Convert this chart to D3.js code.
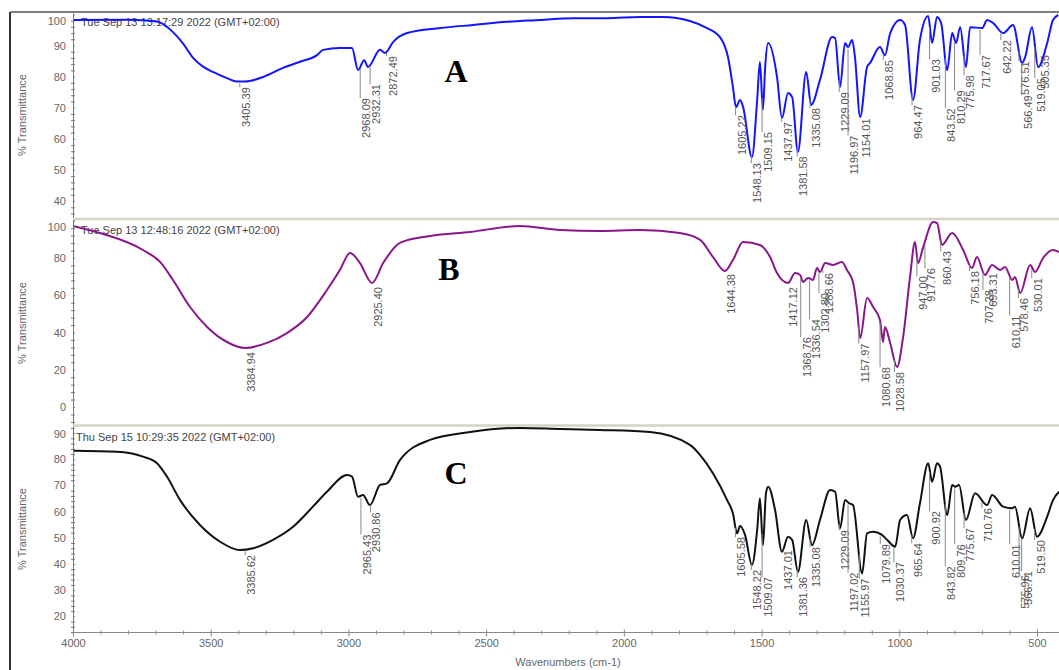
<!DOCTYPE html>
<html><head><meta charset="utf-8">
<script src="https://cdn.jsdelivr.net/npm/d3@7"></script>
<style>
html,body{margin:0;padding:0;background:#fff;}
svg{display:block;font-family:Arial,"Liberation Sans",sans-serif;}
</style></head>
<body>
<svg id="chart" width="1059" height="670"></svg>
<script>
// ---------------- DATA ----------------
const wavenumberTicks = [4000, 3500, 3000, 2500, 2000, 1500, 1000, 500];

const ticksA = [100, 90, 80, 70, 60, 50, 40];
const ticksB = [100, 80, 60, 40, 20, 0];
const ticksC = [90, 80, 70, 60, 50, 40, 30, 20];

const panelLetters = ["A", "B", "C"];
const panelDates = [
  "Tue Sep 13 13:17:29 2022 (GMT+02:00)",
  "Tue Sep 13 12:48:16 2022 (GMT+02:00)",
  "Thu Sep 15 10:29:35 2022 (GMT+02:00)"
];

// spectrum A: [wavenumber, %T]
const spectrumA = [[4000,98.2],[3800,98.3],[3695,97.7],[3637,94.3],[3601,90.7],[3564,86.0],[3528,83.2],[3492,81.5],[3441,79.5],[3405,78.4],[3375,78.4],[3310,79.9],[3237,82.8],[3176,84.8],[3114,86.9],[3092,88.6],[3031,89.2],[2987,89.2],[2965,82.1],[2943,85.3],[2929,83.1],[2885,88.6],[2867,87.6],[2838,91.1],[2787,94.0],[2667,95.6],[2548,96.6],[2424,97.6],[2304,98.2],[2184,98.8],[2061,98.8],[1941,99.2],[1858,99.2],[1760,97.9],[1698,95.6],[1651,92.7],[1622,86.3],[1604,76.7],[1593,70.2],[1578,72.5],[1567,70.2],[1535,54.1],[1516,72.5],[1506,84.7],[1495,69.3],[1487,83.1],[1476,90.8],[1444,79.9],[1426,66.7],[1404,74.7],[1389,73.4],[1368,55.8],[1338,81.5],[1320,70.9],[1288,78.9],[1244,92.7],[1233,92.4],[1215,76.7],[1197,90.8],[1186,89.5],[1171,91.8],[1161,86.3],[1142,67.0],[1117,83.1],[1106,84.4],[1070,89.5],[1052,86.9],[1033,94.0],[997,98.2],[979,96.6],[950,72.5],[925,91.8],[895,99.5],[881,90.8],[863,99.2],[848,97.2],[826,82.1],[808,94.0],[794,90.8],[779,95.9],[758,83.1],[743,95.9],[699,95.6],[681,98.2],[659,97.2],[623,94.0],[587,96.6],[554,84.4],[543,86.3],[518,95.9],[496,83.1],[463,90.8],[442,98.2],[423,99.8]];

const spectrumB = [[4000,97.2],[3902,93.4],[3746,84.3],[3684,77.9],[3637,68.2],[3575,53.7],[3513,43.0],[3441,34.9],[3375,31.7],[3296,34.4],[3223,39.7],[3150,48.3],[3078,62.8],[3031,73.6],[2994,82.7],[2958,77.3],[2914,66.6],[2874,77.3],[2813,88.1],[2704,91.8],[2558,94.0],[2377,97.2],[2232,95.0],[2087,94.5],[1941,95.0],[1796,93.4],[1723,89.7],[1676,80.5],[1633,73.0],[1604,78.9],[1567,88.6],[1506,87.0],[1469,80.5],[1444,71.9],[1404,66.6],[1378,71.9],[1360,70.9],[1349,67.1],[1331,69.3],[1313,68.2],[1299,74.6],[1288,72.5],[1269,77.3],[1240,76.2],[1208,77.9],[1190,73.6],[1168,67.1],[1153,52.1],[1142,37.0],[1117,58.5],[1095,53.7],[1070,46.7],[1059,34.9],[1052,43.0],[1033,34.4],[1008,21.5],[986,37.6],[961,69.8],[943,88.6],[932,77.3],[914,85.4],[877,99.3],[863,98.8],[845,87.0],[808,93.4],[768,84.3],[736,74.6],[718,80.5],[689,70.9],[663,76.2],[634,73.6],[616,75.2],[590,68.2],[580,69.8],[561,61.2],[525,76.2],[507,72.5],[478,80.0],[442,84.3],[420,83.2]];

const spectrumC = [[4000,83.3],[3840,82.9],[3746,81.0],[3695,78.5],[3659,73.4],[3611,64.4],[3539,54.9],[3466,48.5],[3394,45.3],[3346,46.0],[3274,49.2],[3201,54.2],[3129,61.9],[3078,67.6],[3005,74.0],[2987,73.4],[2965,65.7],[2947,66.4],[2922,62.5],[2885,70.2],[2860,70.8],[2813,79.7],[2704,87.4],[2558,90.4],[2377,92.0],[2232,91.6],[2087,91.2],[1905,90.4],[1760,85.5],[1723,81.6],[1676,74.6],[1625,64.4],[1604,59.3],[1589,51.7],[1578,54.5],[1560,51.1],[1535,39.6],[1516,53.0],[1506,65.1],[1495,47.2],[1484,67.0],[1476,69.5],[1451,60.6],[1426,44.7],[1404,50.4],[1389,49.2],[1368,37.0],[1338,56.8],[1317,47.2],[1288,56.8],[1251,68.3],[1233,67.6],[1215,53.6],[1197,64.4],[1182,63.2],[1168,62.5],[1135,36.4],[1117,51.7],[1095,52.3],[1063,51.1],[1044,49.2],[1015,46.6],[997,56.8],[972,58.7],[950,49.8],[925,63.2],[895,78.5],[881,71.4],[863,78.5],[852,77.2],[826,58.7],[808,70.2],[797,69.5],[783,70.2],[758,56.8],[725,67.0],[681,62.5],[663,66.4],[623,61.9],[590,61.3],[580,61.9],[554,49.8],[525,61.3],[500,50.4],[463,58.1],[442,64.4],[420,67.6]];

// peak labels: [label, %T level of label centre]
const peaksA = [["3405.39",70.2],["2968.09",66.7],["2932.31",71.2],["2872.49",80.2],["1605.22",61.2],["1548.13",45.8],["1509.15",55.8],["1437.97",59.0],["1381.58",48.0],["1335.08",63.5],["1229.09",68.6],["1196.97",54.8],["1154.01",60.3],["1068.85",78.9],["964.47",65.4],["901.03",80.2],["843.52",64.4],["810.29",70.2],["775.98",75.0],["717.67",81.5],["642.22",86.3],["576.51",79.5],["566.49",68.6],["519.05",74.1],["505.35",81.5]];
const peaksB = [["3384.94",18.8],["2925.40",53.7],["1644.38",60.7],["1417.12",53.7],["1368.76",26.8],["1336.54",36.5],["1302.80",50.5],["1288.66",61.2],["1157.97",23.6],["1080.68",10.7],["1028.58",8.1],["947.00",61.2],["917.76",65.5],["860.43",74.6],["756.18",63.9],["707.28",53.7],["693.31",62.8],["610.11",40.3],["578.46",49.4],["530.01",60.1]];
const peaksC = [["3385.62",35.8],["2965.43",43.6],["2930.86",52.1],["1605.58",42.7],["1548.22",30.1],["1509.07",27.4],["1437.01",37.7],["1381.36",27.4],["1335.08",38.8],["1229.09",45.3],["1197.02",29.3],["1155.97",27.0],["1079.89",40.0],["1030.37",33.1],["965.64",41.5],["900.92",53.8],["843.82",32.7],["809.76",41.1],["775.67",47.3],["710.76",54.9],["610.01",41.1],["575.96",29.3],["566.71",30.8],["519.50",42.7]];

// ---------------- LAYOUT ----------------
const W = 1059, H = 670;
const plotLeft = 73, plotRight = W;
const axisY = 632.5;
const grey = "#666";

const panels = [
  {top: 13,    bot: 218.5, domain: [34.4, 100.45], ticks: ticksA, minor: 2, data: spectrumA, peaks: peaksA, color: "#1414ff",
   letterPos: [456, 82], datePos: [81, 22], titleY: 115},
  {top: 219.5, bot: 425.5, domain: [-9.93, 100.67], ticks: ticksB, minor: 4, data: spectrumB, peaks: peaksB, color: "#8a168a",
   letterPos: [449, 280], datePos: [81, 230], titleY: 323},
  {top: 426,   bot: 632.5, domain: [13.82, 92.72], ticks: ticksC, minor: 2, data: spectrumC, peaks: peaksC, color: "#111111",
   letterPos: [456, 484], datePos: [76, 437], titleY: 529}
];

const svg = d3.select("#chart");
const x = d3.scaleLinear().domain([4000, 500]).range([73, 1037]);

// outer frame
svg.append("line").attr("x1",10).attr("x2",10).attr("y1",12).attr("y2",H).attr("stroke","#333").attr("stroke-width",2);
svg.append("line").attr("x1",10).attr("x2",W).attr("y1",12).attr("y2",12).attr("stroke","#555").attr("stroke-width",1.5);

panels.forEach((p, i) => {
  const y = d3.scaleLinear().domain(p.domain).range([p.bot, p.top]);
  const g = svg.append("g");

  if (i > 0) {
    g.append("line").attr("x1", plotLeft).attr("x2", W).attr("y1", p.top - 0.5).attr("y2", p.top - 0.5)
      .attr("stroke", "#d6d2c6").attr("stroke-width", 2.5);
  }

  g.append("text").attr("x", p.datePos[0]).attr("y", p.datePos[1]).attr("dominant-baseline","central")
    .attr("font-size", 11).attr("fill", "#444").text(panelDates[i]);

  const minorVals = d3.range(Math.ceil(p.domain[0]/p.minor)*p.minor, p.domain[1], p.minor)
      .filter(v => p.ticks.indexOf(v) < 0);
  const minorAx = g.append("g").attr("transform", `translate(${plotLeft},0)`)
    .call(d3.axisLeft(y).tickValues(minorVals).tickSize(2).tickSizeOuter(0).tickFormat(""));
  minorAx.select(".domain").remove();
  minorAx.selectAll(".tick line").attr("stroke", "#777").attr("x2", 2).attr("x1",-2);

  const ax = g.append("g").attr("transform", `translate(${plotLeft},0)`)
    .call(d3.axisLeft(y).tickValues(p.ticks).tickSize(4).tickSizeOuter(0).tickPadding(3));
  ax.select(".domain").attr("stroke", "#777");
  ax.selectAll(".tick line").attr("stroke", "#777").attr("x2", 2);
  ax.selectAll(".tick text").attr("font-size", 11).attr("fill", grey).attr("font-family","Arial, 'Liberation Sans', sans-serif")
    .attr("y", d => Math.max(0, p.top + 7.5 - y(d)));

  g.append("text").attr("transform", `translate(22,${p.titleY}) rotate(-90)`)
    .attr("text-anchor","middle").attr("dominant-baseline","central")
    .attr("font-size", 11).attr("fill", grey).text("% Transmittance");

  const cid = "clip" + i;
  svg.append("clipPath").attr("id", cid).append("rect")
    .attr("x", plotLeft + 1).attr("y", p.top).attr("width", plotRight - plotLeft).attr("height", p.bot - p.top);

  const line = d3.line().x(d => x(d[0])).y(d => y(d[1])).curve(d3.curveMonotoneX);
  g.append("path").datum(p.data).attr("clip-path", `url(#${cid})`)
    .attr("d", line).attr("fill", "none").attr("stroke", p.color).attr("stroke-width", 2)
    .attr("stroke-linejoin","round");

  const pts = p.data.map(d => [x(d[0]), y(d[1])]);
  function curveYAt(px) {
    for (let k = 0; k < pts.length - 1; k++) {
      if (px >= pts[k][0] && px <= pts[k+1][0]) {
        const t = (px - pts[k][0]) / (pts[k+1][0] - pts[k][0]);
        return pts[k][1] + t * (pts[k+1][1] - pts[k][1]);
      }
    }
    return null;
  }

  const lg = g.append("g").attr("clip-path", `url(#${cid})`);
  p.peaks.forEach(pk => {
    const lx = x(+pk[0]) + 9;
    const ly = y(pk[1]);
    const t = lg.append("text").attr("transform", `translate(${lx},${ly}) rotate(-90)`)
      .attr("text-anchor","middle").attr("dominant-baseline","central")
      .attr("font-size", 11).attr("fill", "#555").text(pk[0]);
    const len = t.node().getComputedTextLength();
    const topY = ly - len / 2;
    const lineX = lx - 6;
    const cy = curveYAt(lineX);
    if (cy !== null && topY - cy > 5) {
      lg.append("line").attr("x1", lineX).attr("x2", lineX).attr("y1", cy + 2).attr("y2", topY)
        .attr("stroke", "#888").attr("stroke-width", 1);
    }
  });

  g.append("text").attr("x", p.letterPos[0]).attr("y", p.letterPos[1]).attr("text-anchor","middle")
    .attr("font-family", "'Liberation Serif','Times New Roman',serif").attr("font-weight","bold")
    .attr("font-size", 32).attr("fill", "#000").text(panelLetters[i]);
});

// x axis
svg.append("line").attr("x1", plotLeft).attr("x2", W).attr("y1", axisY).attr("y2", axisY).attr("stroke", "#888");
const xMinor = d3.range(4000, 400, -100).filter(v => wavenumberTicks.indexOf(v) < 0);
const xm = svg.append("g").attr("transform", `translate(0,${axisY})`)
  .call(d3.axisBottom(x).tickValues(xMinor).tickSize(2).tickSizeOuter(0).tickFormat(""));
xm.select(".domain").remove();
xm.selectAll(".tick line").attr("stroke","#888").attr("y1",-2);
const xa = svg.append("g").attr("transform", `translate(0,${axisY})`)
  .call(d3.axisBottom(x).tickValues(wavenumberTicks).tickSize(4).tickSizeOuter(0).tickPadding(3).tickFormat(d3.format("d")));
xa.select(".domain").remove();
xa.selectAll(".tick line").attr("stroke","#888").attr("y1",-3);
xa.selectAll(".tick text").attr("font-size", 11).attr("fill", grey).attr("font-family","Arial, 'Liberation Sans', sans-serif");

svg.append("text").attr("x", 568).attr("y", 662).attr("text-anchor","middle").attr("dominant-baseline","central")
  .attr("font-size", 11).attr("fill", grey).text("Wavenumbers (cm-1)");
</script>
</body></html>
